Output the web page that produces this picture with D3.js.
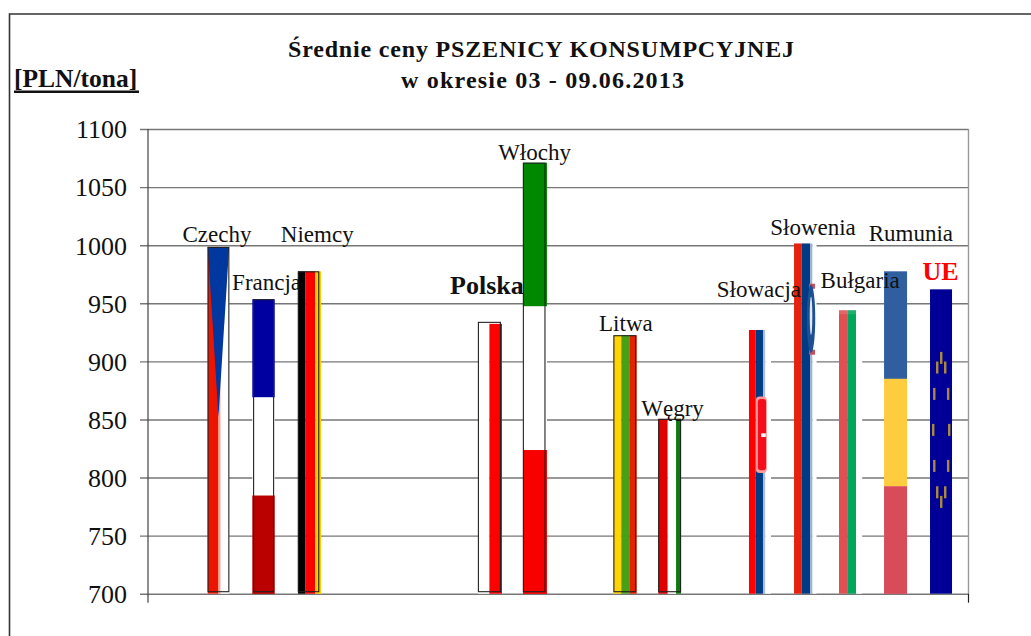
<!DOCTYPE html>
<html>
<head>
<meta charset="utf-8">
<script src="https://cdn.jsdelivr.net/npm/d3@7"></script>
<style>
  html, body { margin: 0; padding: 0; background: #fff; }
  svg { display: block; }
  text { font-family: "Liberation Serif", "Times New Roman", serif; fill: #111; }
</style>
</head>
<body>
<svg id="chart" width="1031" height="636"></svg>
<script>
// Dane
const categories = ["", "Czechy", "Francja", "Niemcy", " a", " b", " c", "Polska", "Włochy", " d",
    "Litwa", "Węgry", " e", "Słowacja", "Słowenia", "Bułgaria", "Rumunia", "UE"];
const countries = ["Czechy", "Francja", "Niemcy", "Polska", "Włochy", "Litwa", "Węgry",
    "Słowacja", "Słowenia", "Bułgaria", "Rumunia", "UE"];
const prices = [998.5, 953.5, 977.5, 934, 1071, 922.5, 850.5, 927, 1001.5, 944, 977.5, 962];
const yTicks = [700, 750, 800, 850, 900, 950, 1000, 1050, 1100];
const titleLines = ["Średnie ceny PSZENICY KONSUMPCYJNEJ", "w okresie 03 - 09.06.2013"];
const unitLabel = "[PLN/tona]";

const svg = d3.select("#chart");
const plot = { left: 148, right: 968.5, top: 129, bottom: 593.7 };

const x = d3.scaleBand().domain(categories).range([150.7, 963.6]);
const y = d3.scaleLinear().domain([700, 1100]).range([plot.bottom, plot.top]);
const cx = c => x(c) + x.bandwidth() / 2;

// Lekkie rozmycie jak w przeskalowanych obrazkach flag
const defs = svg.append("defs");
defs.append("filter").attr("id", "soft").attr("x", "-20%").attr("width", "140%")
    .append("feGaussianBlur").attr("stdDeviation", 0.5);
defs.append("filter").attr("id", "softer").attr("x", "-30%").attr("width", "160%")
    .append("feGaussianBlur").attr("stdDeviation", 0.9);

// Ramka (tylko lewa i górna krawędź są widoczne)
svg.append("path")
    .attr("d", "M9.5,636V14H1031")
    .attr("fill", "none")
    .attr("stroke", "#333")
    .attr("stroke-width", 1.6);

// Tytuł
svg.selectAll(".title")
    .data(titleLines)
    .enter()
    .append("text")
    .attr("class", "title")
    .attr("x", (d, i) => i === 0 ? 541 : 542.5)
    .attr("y", (d, i) => 57 + i * 31)
    .attr("text-anchor", "middle")
    .attr("textLength", (d, i) => i === 0 ? 506 : 283)
    .attr("lengthAdjust", "spacing")
    .style("font-size", "24px")
    .style("font-weight", "bold")
    .text(d => d);

svg.append("text")
    .attr("x", 14)
    .attr("y", 87)
    .style("font-size", "25.5px")
    .style("font-weight", "bold")
    .text(unitLabel);
svg.append("rect")
    .attr("x", 14).attr("y", 90.5)
    .attr("width", 125).attr("height", 2.5)
    .attr("fill", "#111");

// Siatka i oś Y
const yAxis = d3.axisLeft(y)
    .tickValues(yTicks)
    .tickSize(plot.right - plot.left + 8)
    .tickPadding(13)
    .tickFormat(d3.format("d"));

const axisG = svg.append("g")
    .attr("transform", `translate(${plot.right},0)`)
    .call(yAxis);
axisG.select(".domain").remove();
axisG.selectAll("line")
    .attr("stroke", "#777")
    .attr("stroke-width", 1.4);
axisG.selectAll("text")
    .style("font-size", "26px")
    .attr("dy", "0.34em");

svg.append("line")
    .attr("x1", plot.left).attr("x2", plot.left)
    .attr("y1", plot.top).attr("y2", plot.bottom + 9)
    .attr("stroke", "#444").attr("stroke-width", 1.2);
svg.append("line")
    .attr("x1", plot.right).attr("x2", plot.right)
    .attr("y1", plot.top).attr("y2", plot.bottom)
    .attr("stroke", "#999").attr("stroke-width", 1.4);
svg.append("line")
    .attr("x1", plot.right).attr("x2", plot.right)
    .attr("y1", plot.bottom).attr("y2", plot.bottom + 9)
    .attr("stroke", "#222").attr("stroke-width", 1.2);

// Słupki w barwach flag: pasy pionowe [od, do, kolor] względem środka słupka
const verticalFlags = {
    "Niemcy": [[-10.7, -3.2, "#000"], [-3.2, 6.5, "#ff0000"], [6.5, 12.3, "#ffcc00"]],
    "Polska": [[-11.4, 0, "#fff"], [0, 12.6, "#ff0000"]],
    "Litwa": [[-11.2, -3.6, "#ffd400"], [-3.6, 4.4, "#46a018"], [4.4, 11.8, "#e42000"]],
    "Węgry": [[-11.7, -2.3, "#e00000"], [-2.3, 6, "#fff"], [6, 11, "#107a10"]],
    "Słowacja": [[-11.4, -5, "#ff0000"], [-5, 2.6, "#003b85"], [2.6, 5, "#a8bcd8"], [5, 10.6, "#fff"]],
    "Słowenia": [[-11.5, -3.7, "#e4230f"], [-3.7, 4.5, "#003a84"], [4.5, 7, "#9db2d2"], [7, 11, "#fff"]],
    "Bułgaria": [[-11.7, -3.5, "#e05052"], [-3.5, 5.3, "#00a65c"], [5.3, 11.5, "#fff"]],
    "UE": [[-11, 11, "#000096"]]
};
// Pasy poziome [kolor góra, środek, dół] oraz zakres szerokości
const horizontalFlags = {
    "Francja": { dx: [-11.3, 11.1], colors: ["#0000a0", "#fff", "#bb0000"] },
    "Włochy": { dx: [-11.6, 12.4], colors: ["#008800", "#fff", "#f80000"] },
    "Rumunia": { dx: [-11.8, 11.2], colors: ["#305fa0", "#ffcc40", "#d84c5a"] }
};
// Kontur obrazka: [lewa, prawa] krawędź
const outlines = {
    "Czechy": [-10.4, 10.4],
    "Francja": [-10, 10],
    "Niemcy": [-10.5, 10],
    "Polska": [-11, 11],
    "Włochy": [-11.2, 10.4],
    "Litwa": [-11, 10.8],
    "Węgry": [-11.4, 10.5]
};
const blurred = ["Litwa", "Węgry", "Słowacja", "Słowenia"];

const bars = svg.selectAll(".bar")
    .data(countries.map((c, i) => ({ name: c, value: prices[i] })))
    .enter()
    .append("g")
    .attr("class", "bar")
    .attr("transform", d => `translate(${cx(d.name)},${y(d.value)})`);

bars.each(function(d) {
    const g = d3.select(this);
    const h = y(700) - y(d.value);
    const flag = g.append("g")
        .attr("filter", blurred.includes(d.name) ? "url(#soft)" : null);

    if (d.name === "Czechy") {
        g.append("rect").attr("x", -10.7).attr("width", 21.4).attr("height", h).attr("fill", "#fff");
        g.append("rect").attr("x", -10.7).attr("width", 10.7).attr("height", h).attr("fill", "#ee1500");
        g.append("rect").attr("x", 0).attr("width", 2).attr("height", h).attr("fill", "#f9a08f");
        g.append("path")
            .attr("d", `M-10.7,0H10.7L0,${h * 0.49}Z`)
            .attr("fill", "#0038a0");
    }
    if (verticalFlags[d.name]) {
        flag.selectAll(".pas")
            .data(verticalFlags[d.name])
            .enter()
            .append("rect")
            .attr("x", s => s[0])
            .attr("y", s => (d.name === "Polska" && s[2] !== "#fff") ? 2 : 0)
            .attr("width", s => s[1] - s[0])
            .attr("height", s => (d.name === "Polska" && s[2] !== "#fff") ? h - 2 : h)
            .attr("fill", s => s[2]);
    }
    if (horizontalFlags[d.name]) {
        const f = horizontalFlags[d.name];
        flag.selectAll(".pas")
            .data(f.colors)
            .enter()
            .append("rect")
            .attr("x", f.dx[0])
            .attr("y", (s, i) => i * h / 3)
            .attr("width", f.dx[1] - f.dx[0])
            .attr("height", h / 3 + 0.2)
            .attr("fill", s => s);
    }
    if (outlines[d.name]) {
        const o = outlines[d.name];
        g.append("rect")
            .attr("x", o[0])
            .attr("y", 0.5)
            .attr("width", o[1] - o[0])
            .attr("height", h - 2.5)
            .attr("fill", "none")
            .attr("stroke", "#222")
            .attr("stroke-width", 1.1);
    }

    // Godła i gwiazdy
    if (d.name === "Słowacja") {
        const shield = g.append("g").attr("filter", "url(#soft)");
        shield.append("rect")
            .attr("x", -4.6).attr("y", h * 0.252)
            .attr("width", 11).attr("height", h * 0.29)
            .attr("rx", 4).attr("fill", "#ff9a9a");
        shield.append("rect")
            .attr("x", -2.5).attr("y", h * 0.262)
            .attr("width", 8.2).attr("height", h * 0.27)
            .attr("rx", 3).attr("fill", "#f5101a");
        shield.append("rect")
            .attr("x", 0.8).attr("y", h * 0.392)
            .attr("width", 4.6).attr("height", 3.6)
            .attr("fill", "#fff");
    }
    if (d.name === "Słowenia") {
        const crest = g.append("g").attr("filter", "url(#soft)");
        crest.append("rect")
            .attr("x", 3.5).attr("y", h * 0.115)
            .attr("width", 6).attr("height", 5)
            .attr("fill", "#c0505f");
        crest.append("rect")
            .attr("x", 3.5).attr("y", h * 0.115 + 66)
            .attr("width", 6).attr("height", 5)
            .attr("fill", "#c0505f");
        crest.append("ellipse")
            .attr("cx", 5.5).attr("cy", h * 0.115 + 35)
            .attr("rx", 4.2).attr("ry", 34)
            .attr("fill", "#1d4f93");
        crest.append("ellipse")
            .attr("cx", 5.5).attr("cy", h * 0.115 + 32)
            .attr("rx", 1.3).attr("ry", 19)
            .attr("fill", "#e4e8f0");
    }
    if (d.name === "Bułgaria") {
        g.append("rect").attr("x", -11.7).attr("width", 17).attr("height", 4)
            .attr("fill", "#fff").attr("opacity", 0.12);
    }
    if (d.name === "UE") {
        const starY = y(841) - y(d.value);
        g.append("g").attr("filter", "url(#soft)")
            .selectAll(".gwiazda")
            .data(d3.range(12))
            .enter()
            .append("rect")
            .attr("x", i => 8 * Math.sin(i * Math.PI / 6) - 1)
            .attr("y", i => starY - 72 * Math.cos(i * Math.PI / 6) - 6)
            .attr("width", 2.4)
            .attr("height", 12)
            .attr("fill", "#a98a3a");
    }
});

// Etykiety krajów na wierzchu, przesunięte względem wierzchołka słupka
const labelOffsets = {
    "Czechy": [-1.5, -4.5], "Francja": [3, -9.5], "Niemcy": [8.5, -29.5],
    "Polska": [-2.5, -28], "Włochy": [0, -3], "Litwa": [1, -4],
    "Węgry": [2.5, -3], "Słowacja": [-1.5, -33], "Słowenia": [7.5, -8],
    "Bułgaria": [9.5, -22], "Rumunia": [15, -30.5], "UE": [-0.5, -9]
};
const boldLabels = ["Polska", "UE"];

svg.selectAll(".label")
    .data(countries.map((c, i) => ({ name: c, value: prices[i] })))
    .enter()
    .append("text")
    .attr("class", "label")
    .attr("x", d => cx(d.name) + labelOffsets[d.name][0])
    .attr("y", d => y(d.value) + labelOffsets[d.name][1])
    .attr("text-anchor", "middle")
    .style("font-size", d => boldLabels.includes(d.name) ? "26px" : "23px")
    .style("font-weight", d => boldLabels.includes(d.name) ? "bold" : "normal")
    .style("fill", d => d.name === "UE" ? "#ff0000" : "#111")
    .text(d => d.name);
</script>
</body>
</html>
